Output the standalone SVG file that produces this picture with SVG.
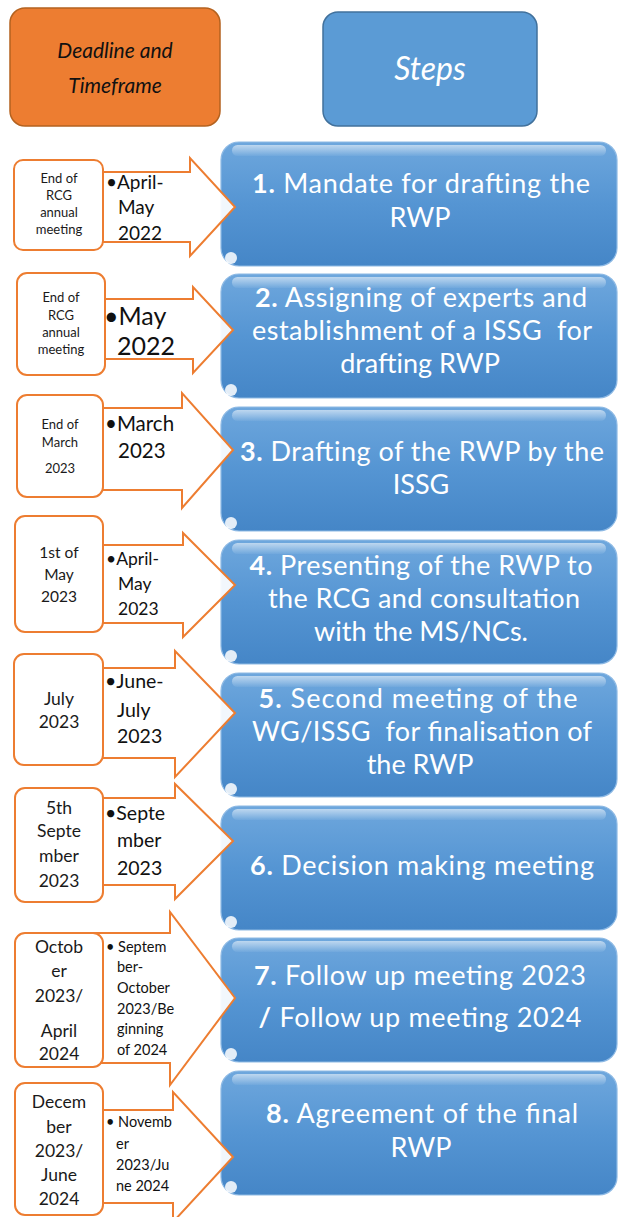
<svg xmlns="http://www.w3.org/2000/svg" width="618" height="1217" viewBox="0 0 618 1217">
<defs>
<linearGradient id="bg" x1="0" y1="0" x2="0" y2="1">
<stop offset="0" stop-color="#6EA7DD"/>
<stop offset="0.5" stop-color="#5595D3"/>
<stop offset="1" stop-color="#4586C7"/>
</linearGradient>
<linearGradient id="hl" x1="0" y1="0" x2="0" y2="1">
<stop offset="0" stop-color="#ffffff" stop-opacity="0.55"/>
<stop offset="1" stop-color="#ffffff" stop-opacity="0.05"/>
</linearGradient>
<style>
.step{fill:url(#bg);stroke:#8DB9E4;stroke-width:1.2}
.shine{fill:url(#hl)}
.spot{fill:#ffffff;opacity:0.85}
.st{font-family:Lato,"Open Sans",sans-serif;font-size:27px;fill:#ffffff;text-anchor:middle}
.st tspan.n{font-weight:bold}
.date{fill:#ffffff;stroke:#ED7D31;stroke-width:2}
.arr{fill:#ffffff;fill-opacity:0.92;stroke:#ED7D31;stroke-width:2;stroke-linejoin:miter}
.dt{font-family:Lato,"Open Sans",sans-serif;fill:#1a1a1a;text-anchor:middle}
.at{font-family:Lato,"Open Sans",sans-serif;fill:#111111}
</style>
</defs>
<rect width="618" height="1217" fill="#ffffff"/>

<g id="header-deadline">
<rect x="10" y="8" width="210" height="118" rx="15" fill="#ED7D31" stroke="#B4621F" stroke-width="1.5"/>
<text x="115" y="58" font-family="Lato,'Open Sans',sans-serif" font-style="italic" font-size="21" fill="#111" text-anchor="middle">Deadline and</text>
<text x="115" y="93" font-family="Lato,'Open Sans',sans-serif" font-style="italic" font-size="21" fill="#111" text-anchor="middle">Timeframe</text>
</g>
<g id="header-steps">
<rect x="323" y="12" width="214" height="114" rx="15" fill="#5B9BD5" stroke="#41719C" stroke-width="1.5"/>
<text x="430" y="80" font-family="Lato,'Open Sans',sans-serif" font-style="italic" font-size="32" fill="#ffffff" text-anchor="middle">Steps</text>
</g>

<g id="step1">
<rect class="step" x="221" y="142" width="396" height="124" rx="18"/>
<rect class="shine" x="232" y="145" width="374" height="11" rx="5.5"/>
<ellipse class="spot" cx="231" cy="258" rx="6" ry="6"/>
<text class="st" x="421" y="193" textLength="338"><tspan class="n">1.</tspan> Mandate for drafting the</text>
<text class="st" x="420" y="227">RWP</text>
</g>
<g id="step2">
<rect class="step" x="221" y="274" width="396" height="124" rx="18"/>
<rect class="shine" x="232" y="277" width="374" height="11" rx="5.5"/>
<ellipse class="spot" cx="231" cy="390" rx="6" ry="6"/>
<text class="st" x="421" y="307" textLength="332"><tspan class="n">2.</tspan> Assigning of experts and</text>
<text class="st" x="422" y="340" textLength="340" xml:space="preserve">establishment of a ISSG  for</text>
<text class="st" x="420" y="373">drafting RWP</text>
</g>
<g id="step3">
<rect class="step" x="221" y="407" width="396" height="124" rx="18"/>
<rect class="shine" x="232" y="410" width="374" height="11" rx="5.5"/>
<ellipse class="spot" cx="231" cy="523" rx="6" ry="6"/>
<text class="st" x="422" y="461" textLength="364"><tspan class="n">3.</tspan> Drafting of the RWP by the</text>
<text class="st" x="421" y="494">ISSG</text>
</g>
<g id="step4">
<rect class="step" x="221" y="540" width="396" height="124" rx="18"/>
<rect class="shine" x="232" y="543" width="374" height="11" rx="5.5"/>
<ellipse class="spot" cx="231" cy="656" rx="6" ry="6"/>
<text class="st" x="421" y="575" textLength="343"><tspan class="n">4.</tspan> Presenting of the RWP to</text>
<text class="st" x="424" y="608" textLength="312">the RCG and consultation</text>
<text class="st" x="421" y="641">with the MS/NCs.</text>
</g>
<g id="step5">
<rect class="step" x="221" y="673" width="396" height="124" rx="18"/>
<rect class="shine" x="232" y="676" width="374" height="11" rx="5.5"/>
<ellipse class="spot" cx="231" cy="789" rx="6" ry="6"/>
<text class="st" x="418" y="708" textLength="319"><tspan class="n">5.</tspan> Second meeting of the</text>
<text class="st" x="422" y="741" textLength="340" xml:space="preserve">WG/ISSG  for finalisation of</text>
<text class="st" x="420" y="774">the RWP</text>
</g>
<g id="step6">
<rect class="step" x="221" y="806" width="396" height="124" rx="18"/>
<rect class="shine" x="232" y="809" width="374" height="11" rx="5.5"/>
<ellipse class="spot" cx="231" cy="922" rx="6" ry="6"/>
<text class="st" x="422" y="875" textLength="344"><tspan class="n">6.</tspan> Decision making meeting</text>
</g>
<g id="step7">
<rect class="step" x="221" y="938" width="396" height="124" rx="18"/>
<rect class="shine" x="232" y="941" width="374" height="11" rx="5.5"/>
<ellipse class="spot" cx="231" cy="1054" rx="6" ry="6"/>
<text class="st" x="420" y="985" textLength="332"><tspan class="n">7.</tspan> Follow up meeting 2023</text>
<text class="st" x="420" y="1027" textLength="323"><tspan class="n">/</tspan> Follow up meeting 2024</text>
</g>
<g id="step8">
<rect class="step" x="221" y="1071" width="396" height="124" rx="18"/>
<rect class="shine" x="232" y="1074" width="374" height="11" rx="5.5"/>
<ellipse class="spot" cx="231" cy="1187" rx="6" ry="6"/>
<text class="st" x="422" y="1123" textLength="312"><tspan class="n">8.</tspan> Agreement of the final</text>
<text class="st" x="421" y="1157">RWP</text>
</g>

<g id="connectors">
<polygon class="arr" points="80,172 190,172 190,158 235,207 190,256 190,242 80,242"/>
<polygon class="arr" points="80,299 193,299 193,287 233,330 193,373 193,359 80,359"/>
<polygon class="arr" points="80,408 182,408 182,393 233,450 182,508 182,490 80,490"/>
<polygon class="arr" points="80,545 183,545 183,533 235,585 183,637 183,623 80,623"/>
<polygon class="arr" points="80,668 175,668 175,651 235,713 175,777 175,758 80,758"/>
<polygon class="arr" points="80,798 175,798 175,784 233,841 175,899 175,885 80,885"/>
<polygon class="arr" points="80,933 170,933 170,912 235,998 170,1085 170,1063 80,1063"/>
<polygon class="arr" points="80,1110 173,1110 173,1092 233,1157 173,1222 173,1203 80,1203"/>
</g>

<g id="timeframe1">
<text class="at" font-size="19"><tspan x="106" y="189">•April-</tspan><tspan x="118" y="214">May</tspan><tspan x="118" y="240">2022</tspan></text>
</g>
<g id="timeframe2">
<text class="at" font-size="25"><tspan x="104" y="325">•May</tspan><tspan x="117" y="355">2022</tspan></text>
</g>
<g id="timeframe3">
<text class="at" font-size="20.5"><tspan x="105" y="431">•March</tspan><tspan x="118" y="458">2023</tspan></text>
</g>
<g id="timeframe4">
<text class="at" font-size="17.5"><tspan x="106" y="565">•April-</tspan><tspan x="118" y="590">May</tspan><tspan x="118" y="615">2023</tspan></text>
</g>
<g id="timeframe5">
<text class="at" font-size="19.5"><tspan x="105" y="688">•June-</tspan><tspan x="117" y="717">July</tspan><tspan x="117" y="743">2023</tspan></text>
</g>
<g id="timeframe6">
<text class="at" font-size="19.5"><tspan x="105" y="820">•Septe</tspan><tspan x="117" y="847">mber</tspan><tspan x="117" y="875">2023</tspan></text>
</g>
<g id="timeframe7">
<text class="at" font-size="14.5"><tspan x="106" y="952">• Septem</tspan><tspan x="117" y="972">ber-</tspan><tspan x="117" y="993">October</tspan><tspan x="117" y="1014">2023/Be</tspan><tspan x="117" y="1034">ginning</tspan><tspan x="117" y="1055">of 2024</tspan></text>
</g>
<g id="timeframe8">
<text class="at" font-size="14.5"><tspan x="106" y="1127">• Novemb</tspan><tspan x="116" y="1149">er</tspan><tspan x="116" y="1170">2023/Ju</tspan><tspan x="116" y="1191">ne 2024</tspan></text>
</g>

<g id="deadline1">
<rect class="date" x="14" y="160" width="89" height="90" rx="9"/>
<text class="dt" font-size="13"><tspan x="59" y="183">End of</tspan><tspan x="59" y="200">RCG</tspan><tspan x="59" y="217">annual</tspan><tspan x="59" y="234">meeting</tspan></text>
</g>
<g id="deadline2">
<rect class="date" x="17" y="273" width="88" height="102" rx="10"/>
<text class="dt" font-size="13"><tspan x="61" y="302">End of</tspan><tspan x="61" y="320">RCG</tspan><tspan x="61" y="337">annual</tspan><tspan x="61" y="354">meeting</tspan></text>
</g>
<g id="deadline3">
<rect class="date" x="17" y="395" width="86" height="102" rx="10"/>
<text class="dt" font-size="13"><tspan x="60" y="429">End of</tspan><tspan x="60" y="447">March</tspan><tspan x="60" y="473">2023</tspan></text>
</g>
<g id="deadline4">
<rect class="date" x="15" y="516" width="88" height="116" rx="10"/>
<text class="dt" font-size="15.5"><tspan x="59" y="558">1st of</tspan><tspan x="59" y="580">May</tspan><tspan x="59" y="602">2023</tspan></text>
</g>
<g id="deadline5">
<rect class="date" x="14" y="654" width="89" height="111" rx="10"/>
<text class="dt" font-size="17.5"><tspan x="59" y="705">July</tspan><tspan x="59" y="728">2023</tspan></text>
</g>
<g id="deadline6">
<rect class="date" x="15" y="788" width="88" height="114" rx="10"/>
<text class="dt" font-size="17.5"><tspan x="59" y="814">5th</tspan><tspan x="59" y="837">Septe</tspan><tspan x="59" y="862">mber</tspan><tspan x="59" y="887">2023</tspan></text>
</g>
<g id="deadline7">
<rect class="date" x="15" y="933" width="88" height="134" rx="10"/>
<text class="dt" font-size="17.5"><tspan x="59" y="953">Octob</tspan><tspan x="59" y="977">er</tspan><tspan x="59" y="1002">2023/</tspan><tspan x="59" y="1037">April</tspan><tspan x="59" y="1060">2024</tspan></text>
</g>
<g id="deadline8">
<rect class="date" x="15" y="1083" width="88" height="132" rx="10"/>
<text class="dt" font-size="17.5"><tspan x="59" y="1108">Decem</tspan><tspan x="59" y="1133">ber</tspan><tspan x="59" y="1157">2023/</tspan><tspan x="59" y="1181">June</tspan><tspan x="59" y="1205">2024</tspan></text>
</g>
</svg>
